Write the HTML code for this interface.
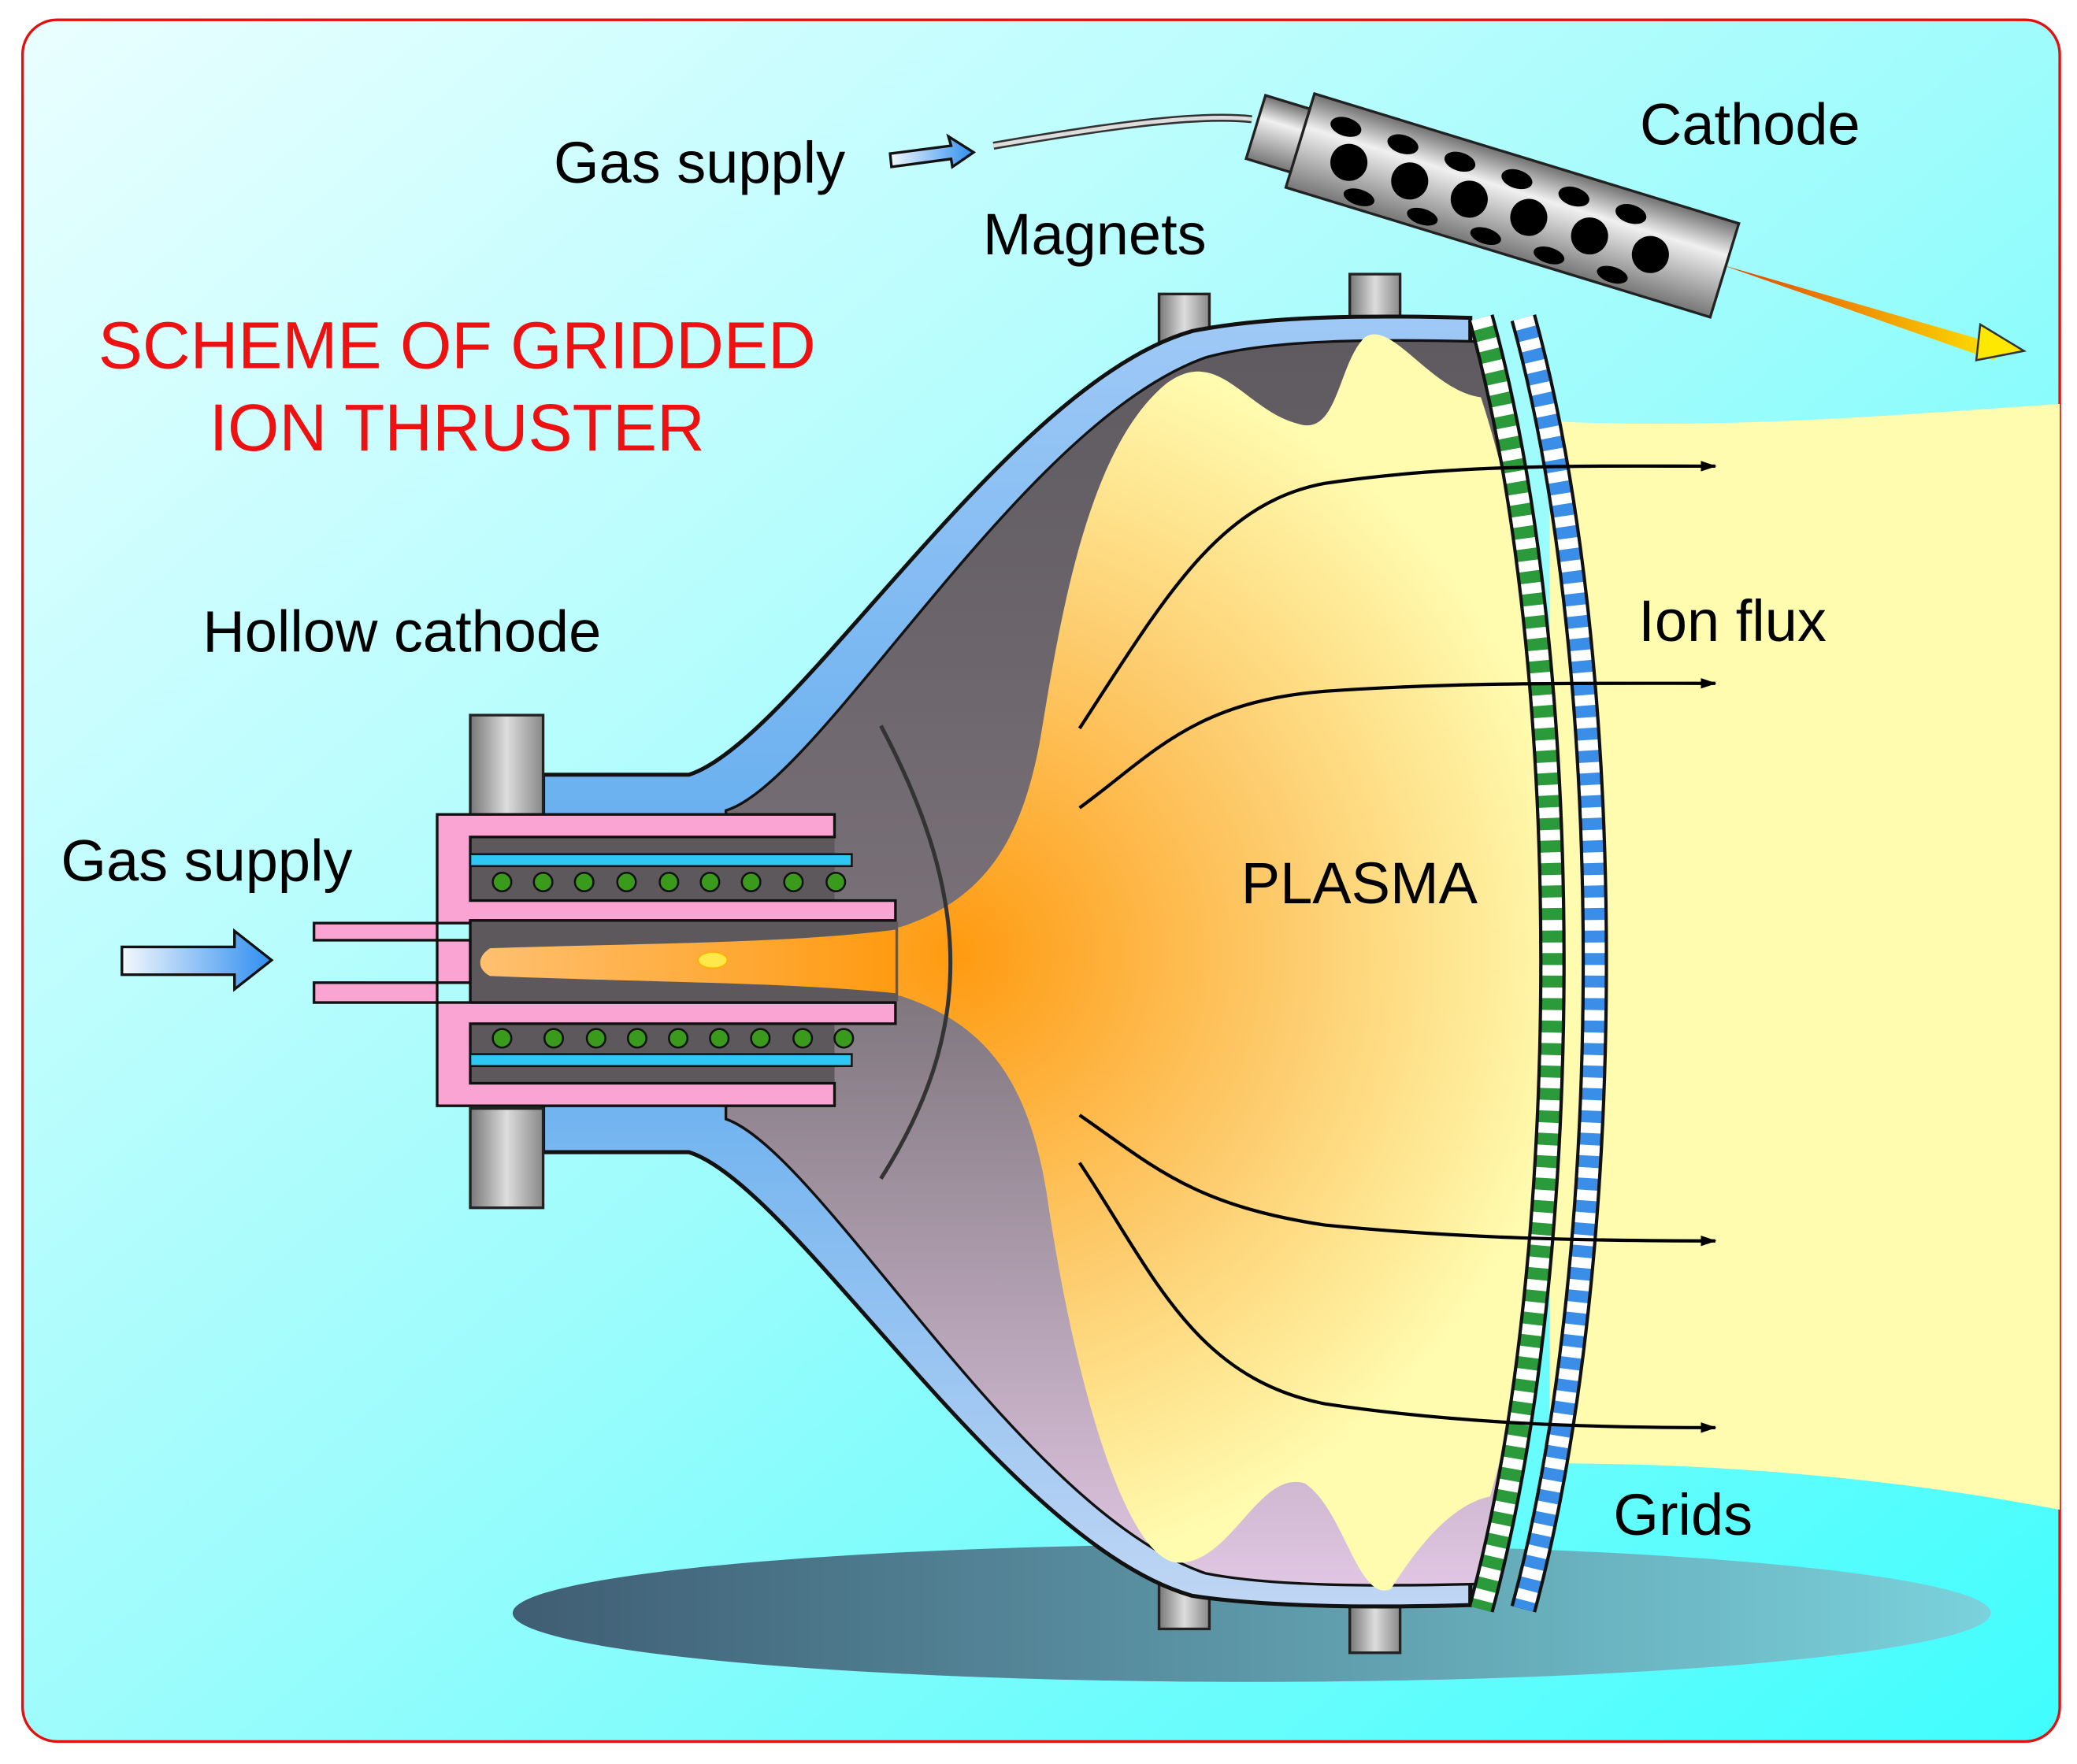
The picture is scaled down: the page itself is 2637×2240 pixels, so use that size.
<!DOCTYPE html>
<html><head><meta charset="utf-8"><style>
html,body{margin:0;padding:0;background:#fff;}
svg{display:block;}
text{font-family:"Liberation Sans",sans-serif;}
</style></head><body>
<svg width="2637" height="2240" viewBox="0 0 1568 1332" xmlns="http://www.w3.org/2000/svg">
<defs>
<linearGradient id="bg" x1="0" y1="0" x2="1" y2="1">
<stop offset="0" stop-color="#eafeff"/><stop offset="0.5" stop-color="#9ffcfc"/><stop offset="1" stop-color="#40fdfd"/></linearGradient>
<linearGradient id="sh" x1="0" y1="0" x2="1" y2="0">
<stop offset="0" stop-color="#3f5d73"/><stop offset="1" stop-color="#7ad2dc"/></linearGradient>
<linearGradient id="wall" x1="0" y1="0" x2="0" y2="1">
<stop offset="0" stop-color="#9fc9f6"/><stop offset="0.5" stop-color="#5aa9ee"/><stop offset="1" stop-color="#c0d6f4"/></linearGradient>
<linearGradient id="inner" x1="0" y1="0" x2="0" y2="1">
<stop offset="0" stop-color="#5e5a60"/><stop offset="0.5" stop-color="#7a7278"/><stop offset="1" stop-color="#e0c6e2"/></linearGradient>
<radialGradient id="pl" cx="720" cy="720" r="560" gradientUnits="userSpaceOnUse">
<stop offset="0" stop-color="#ff9a10"/><stop offset="0.45" stop-color="#fdcb6c"/><stop offset="0.85" stop-color="#fffcb0"/></radialGradient>
<linearGradient id="fl" x1="362" y1="0" x2="680" y2="0" gradientUnits="userSpaceOnUse">
<stop offset="0" stop-color="#ffc070"/><stop offset="1" stop-color="#ff9a10"/></linearGradient>
<linearGradient id="arr" x1="0" y1="0" x2="1" y2="0">
<stop offset="0" stop-color="#f4f8fc"/><stop offset="1" stop-color="#2f8ef0"/></linearGradient>
<linearGradient id="cyl" x1="0" y1="0" x2="0" y2="1">
<stop offset="0" stop-color="#707070"/><stop offset="0.35" stop-color="#f0f0f0"/><stop offset="1" stop-color="#777"/></linearGradient>
<linearGradient id="oa" x1="0" y1="0" x2="1" y2="0">
<stop offset="0" stop-color="#e04000"/><stop offset="1" stop-color="#ffe800"/></linearGradient>
<linearGradient id="gm" x1="0" y1="0" x2="1" y2="0">
<stop offset="0" stop-color="#777"/><stop offset="0.5" stop-color="#ddd"/><stop offset="1" stop-color="#888"/></linearGradient>
<marker id="ah" markerWidth="12" markerHeight="8" refX="11" refY="4" orient="auto" markerUnits="userSpaceOnUse">
<path d="M0,0 L12,4 L0,8 Z" fill="#000"/></marker>
</defs>
<rect x="17" y="15" width="1538" height="1300" rx="26" fill="url(#bg)" stroke="#e21010" stroke-width="2"/>
<ellipse cx="945" cy="1218" rx="558" ry="52" fill="url(#sh)"/>
<path d="M1170,318 C1300,325 1450,312 1555,305 L1555,1140 C1450,1120 1320,1105 1170,1105 Z" fill="#fffcb0"/>
<rect x="875" y="222" width="38" height="42" fill="url(#gm)" stroke="#222" stroke-width="2"/>
<rect x="1019" y="207" width="38" height="40" fill="url(#gm)" stroke="#222" stroke-width="2"/>
<rect x="875" y="1192" width="38" height="38" fill="url(#gm)" stroke="#222" stroke-width="2"/>
<rect x="1019" y="1210" width="38" height="38" fill="url(#gm)" stroke="#222" stroke-width="2"/>
<path d="M410,585 L520,585 C600,560 760,290 900,250 C960,238 1040,238 1110,240 L1110,1212 C1040,1214 960,1214 900,1205 C760,1165 600,895 520,870 L410,870 Z" fill="url(#wall)" stroke="#111" stroke-width="3"/>
<path d="M548,612 C620,590 770,320 910,270 C960,256 1040,256 1118,258 C1190,500 1190,950 1118,1196 C1040,1198 960,1198 910,1188 C770,1140 620,870 548,845 Z" fill="url(#inner)" stroke="#111" stroke-width="2"/>
<path d="M1118,300 C1080,295 1050,240 1030,255 C1010,275 1010,330 980,320 C940,310 920,260 880,290 C820,340 800,470 785,560 C770,640 740,680 680,700 C600,712 500,712 370,716 C360,722 360,732 370,737 C500,742 600,742 680,752 C740,772 775,810 790,900 C810,1040 850,1180 890,1180 C930,1180 950,1110 985,1120 C1015,1140 1025,1210 1050,1200 C1075,1160 1100,1135 1125,1130 C1190,900 1190,520 1118,300 Z" fill="url(#pl)"/>
<path d="M665,548 C735,680 735,780 665,890" fill="none" stroke="#333" stroke-width="3"/>
<rect x="355" y="540" width="55" height="75" fill="url(#gm)" stroke="#222" stroke-width="2"/>
<rect x="355" y="837" width="55" height="75" fill="url(#gm)" stroke="#222" stroke-width="2"/>
<rect x="355" y="632" width="275" height="186" fill="#5c585c"/>
<path d="M330,615 L630,615 L630,632 L355,632 L355,680 L676,680 L676,695 L355,695 L355,697 L237,697 L237,710 L355,710 L355,742 L237,742 L237,757 L355,757 L676,757 L676,773 L355,773 L355,818 L630,818 L630,835 L330,835 Z" fill="#f9a4d2" stroke="#111" stroke-width="2"/>
<rect x="356" y="696" width="322" height="60" fill="#5c585c"/>
<path d="M676,702 C600,712 500,712 370,716 C360,722 360,732 370,737 C500,742 600,742 676,750 Z" fill="url(#fl)"/>
<ellipse cx="538" cy="725" rx="11" ry="6" fill="#ffe84a" stroke="#ffb000"/>
<path d="M355,695 L676,695 M355,757 L676,757 M355,695 L355,757" stroke="#111" stroke-width="2"/>
<rect x="355" y="645" width="288" height="9" fill="#2fc8f4" stroke="#111" stroke-width="1.5"/>
<rect x="355" y="796" width="288" height="9" fill="#2fc8f4" stroke="#111" stroke-width="1.5"/>
<g fill="#3a9a1c" stroke="#111" stroke-width="1.5">
<circle cx="379" cy="666" r="7"/><circle cx="410" cy="666" r="7"/><circle cx="441" cy="666" r="7"/><circle cx="473" cy="666" r="7"/><circle cx="505" cy="666" r="7"/><circle cx="536" cy="666" r="7"/><circle cx="567" cy="666" r="7"/><circle cx="599" cy="666" r="7"/><circle cx="631" cy="666" r="7"/>
<circle cx="379" cy="784" r="7"/><circle cx="418" cy="784" r="7"/><circle cx="450" cy="784" r="7"/><circle cx="481" cy="784" r="7"/><circle cx="512" cy="784" r="7"/><circle cx="543" cy="784" r="7"/><circle cx="574" cy="784" r="7"/><circle cx="606" cy="784" r="7"/><circle cx="637" cy="784" r="7"/>
</g>
<path d="M1118,240 C1190,500 1190,950 1118,1215" fill="none" stroke="#111" stroke-width="20"/>
<path d="M1118,240 C1190,500 1190,950 1118,1215" fill="none" stroke="#2a9a3a" stroke-width="15"/>
<path d="M1118,240 C1190,500 1190,950 1118,1215" fill="none" stroke="#fff" stroke-width="15" stroke-dasharray="8 9"/>
<path d="M1150,240 C1222,500 1222,950 1150,1215" fill="none" stroke="#111" stroke-width="20"/>
<path d="M1150,240 C1222,500 1222,950 1150,1215" fill="none" stroke="#3a8ee8" stroke-width="15"/>
<path d="M1150,240 C1222,500 1222,950 1150,1215" fill="none" stroke="#fff" stroke-width="15" stroke-dasharray="8 9"/>
<g fill="none" stroke="#000" stroke-width="2.5" marker-end="url(#ah)">
<path d="M815,550 C880,450 920,380 1000,365 C1100,350 1200,352 1295,352"/>
<path d="M815,610 C870,570 900,530 1000,522 C1100,515 1200,516 1295,516"/>
<path d="M815,842 C870,880 900,910 1000,925 C1100,935 1200,937 1295,937"/>
<path d="M815,878 C870,960 900,1040 1000,1060 C1100,1075 1200,1078 1295,1078"/>
</g>
<path d="M92,715 L177,715 L177,703 L205,725 L177,747 L177,736 L92,736 Z" fill="url(#arr)" stroke="#111" stroke-width="2"/>
<path d="M672,116 L718,110 L716,103 L735,115 L719,126 L718,120 L673,126 Z" fill="url(#arr)" stroke="#111" stroke-width="2"/>
<path d="M750,110 C820,98 900,85 945,90" fill="none" stroke="#333" stroke-width="6"/>
<path d="M750,110 C820,98 900,85 945,90" fill="none" stroke="#ddd" stroke-width="3"/>
<path d="M1300,200 L1515,262 L1505,272 Z" fill="url(#oa)"/>
<path d="M1495,245 L1528,265 L1492,272 Z" fill="#ffe800" stroke="#333" stroke-width="1.5"/>
<g transform="translate(1125,150) rotate(17)">
<rect x="-150" y="-37" width="335" height="74" fill="url(#cyl)" stroke="#222" stroke-width="2"/>
<rect x="-185" y="-25" width="35" height="50" fill="url(#cyl)" stroke="#222" stroke-width="2"/>
<g fill="#000">
<ellipse cx="-120" cy="-20" rx="12" ry="7"/><ellipse cx="-75" cy="-20" rx="12" ry="7"/><ellipse cx="-30" cy="-20" rx="12" ry="7"/><ellipse cx="15" cy="-20" rx="12" ry="7"/><ellipse cx="60" cy="-20" rx="12" ry="7"/><ellipse cx="105" cy="-20" rx="12" ry="7"/>
<circle cx="-110" cy="5" r="14"/><circle cx="-62" cy="5" r="14"/><circle cx="-15" cy="5" r="14"/><circle cx="32" cy="5" r="14"/><circle cx="80" cy="5" r="14"/><circle cx="128" cy="5" r="14"/>
<ellipse cx="-95" cy="28" rx="12" ry="6"/><ellipse cx="-45" cy="28" rx="12" ry="6"/><ellipse cx="5" cy="28" rx="12" ry="6"/><ellipse cx="55" cy="28" rx="12" ry="6"/><ellipse cx="105" cy="28" rx="12" ry="6"/>
</g>
</g>
<g font-size="44" fill="#000">
<text x="418" y="138">Gas supply</text>
<text x="742" y="192">Magnets</text>
<text x="1238" y="109">Cathode</text>
<text x="153" y="492">Hollow cathode</text>
<text x="46" y="665">Gas supply</text>
<text x="1237" y="484">Ion flux</text>
<text x="937" y="682">PLASMA</text>
<text x="1218" y="1159">Grids</text>
</g>
<g font-size="50" fill="#ee1111" text-anchor="middle">
<text x="345" y="278">SCHEME OF GRIDDED</text>
<text x="345" y="340">ION THRUSTER</text>
</g>
</svg>
</body></html>
